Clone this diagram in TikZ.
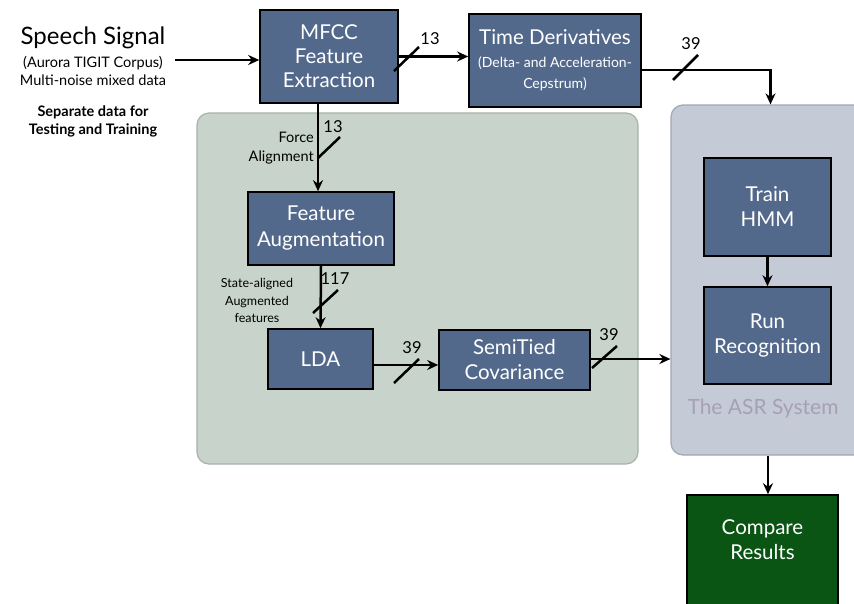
\documentclass[tikz,border=0pt]{standalone}
\usepackage{fontspec}
\setmainfont{Lato}
\usetikzlibrary{arrows.meta,calc}
\definecolor{boxblue}{HTML}{53698C}
\definecolor{greenreg}{HTML}{C8D3CC}
\definecolor{greenbd}{HTML}{A9B2AC}
\definecolor{asrreg}{HTML}{C4CBD7}
\definecolor{asrbd}{HTML}{A0A7B4}
\definecolor{asrtext}{HTML}{A79FB6}
\definecolor{cmpgreen}{HTML}{0B5514}
\tikzset{
  blockbox/.style={draw=black, line width=1.6pt, fill=boxblue, text=white, inner sep=0pt, align=center, font=\fontsize{20.5}{24}\selectfont},
  region/.style={rounded corners=12pt, line width=1.2pt, inner sep=0pt},
  arr/.style={line width=2.5pt, -{Stealth[length=11pt,width=10pt]}},
  slash/.style={line width=2.5pt},
  numlab/.style={font=\fontsize{16.5}{18}\selectfont, inner sep=0pt},
}
\begin{document}
\begin{tikzpicture}[x=1pt,y=-1pt]
\clip (0,0) rectangle (854,603);
\fill[white] (0,0) rectangle (854,603);
% regions
\node[region, draw=greenbd, fill=greenreg, minimum width=441pt, minimum height=351pt] (green) at (417.5,288.5) {};
\node[region, draw=asrbd, fill=asrreg, minimum width=199pt, minimum height=350pt] (asr) at (770.5,280) {};
\node[text=asrtext, font=\fontsize{21}{24}\selectfont] (asrlab) at (763,409) {The ASR System};
% blocks
\node[blockbox, minimum width=138pt, minimum height=93pt] (mfcc) at (329,56.5) {MFCC\\Feature\\Extraction};
\node[blockbox, minimum width=172pt, minimum height=93pt] (td) at (555,60.5) {Time Derivatives\\[-1pt]{\fontsize{14}{15}\selectfont (Delta- and Acceleration-}\\[-3pt]{\fontsize{14}{15}\selectfont Cepstrum)}};
\node[blockbox, minimum width=146pt, minimum height=73pt] (fa) at (321,228.5) {Feature\\[2pt]Augmentation};
\node[blockbox, minimum width=105pt, minimum height=60pt] (lda) at (320.5,359) {LDA};
\node[blockbox, minimum width=151pt, minimum height=60pt] (semi) at (514.5,360) {SemiTied\\[1pt]Covariance};
\node[blockbox, minimum width=127pt, minimum height=98pt] (hmm) at (767.5,207) {Train\\[1pt]HMM};
\node[blockbox, minimum width=127pt, minimum height=97pt] (run) at (767.5,335.5) {Run\\[1pt]Recognition};
\node[blockbox, fill=cmpgreen, minimum width=151pt, minimum height=120pt] (cmp) at (762.5,555) {};
\node[text=white, font=\fontsize{20.5}{25}\selectfont, align=center] (cmplab) at (762.5,540) {Compare\\Results};
% left texts
\node[font=\fontsize{24}{28}\selectfont, inner sep=0pt] (speech) at (93,38) {Speech Signal};
\node[font=\fontsize{14.5}{18}\selectfont, align=center, inner sep=0pt] (aurora) at (93,71) {(Aurora TIGIT Corpus)\\Multi-noise mixed data};
\node[font=\bfseries\fontsize{14.5}{18}\selectfont, align=center, inner sep=0pt] (sep) at (93,121) {Separate data for\\Testing and Training};
\coordinate (sp) at (175,60);
% connectors
\draw[arr] (sp) -- (sp -| mfcc.west);
\draw[arr] (mfcc.east) -- (td.west |- mfcc.east);
\draw[arr] ([yshift=-9.5pt]td.east) -| (asr.north);
\draw[arr] ([xshift=-3pt]fa.north |- mfcc.south) -- ([xshift=-3pt]fa.north);
\draw[arr] (fa.south) -- (lda.north);
\draw[arr] ([yshift=-6pt]lda.east) -- ([yshift=-6pt]lda.east -| semi.west);
\draw[arr] ([yshift=1pt]semi.east) -- ([yshift=1pt]semi.east -| asr.west);
\draw[arr] (hmm.south) -- (run.north);
\draw[arr] ([xshift=5.5pt]cmp.north |- asr.south) -- ([xshift=5.5pt]cmp.north);
% slashes
\draw[slash] (394,71) -- (419,47);
\draw[slash] (673,80) -- (698,55);
\draw[slash] (318,158) -- (340,137);
\draw[slash] (313,313) -- (338,290);
\draw[slash] (394,383) -- (419,359);
\draw[slash] (592,368) -- (617,346);
% numbers
\node[numlab] (n1) at (430,39) {13};
\node[numlab] (n2) at (691,44) {39};
\node[numlab] (n3) at (333,127) {13};
\node[numlab] (n4) at (335,279) {117};
\node[numlab] (n5) at (412,348) {39};
\node[numlab] (n6) at (609,335) {39};
% side labels
\node[font=\fontsize{14.5}{19}\selectfont, align=right, anchor=east, inner sep=0pt] (force) at (314,148.5) {Force\\Alignment};
\node[font=\fontsize{12.5}{17.5}\selectfont, align=center, inner sep=0pt] (state) at (257,300.5) {State-aligned\\Augmented\\features};
\end{tikzpicture}
\end{document}
